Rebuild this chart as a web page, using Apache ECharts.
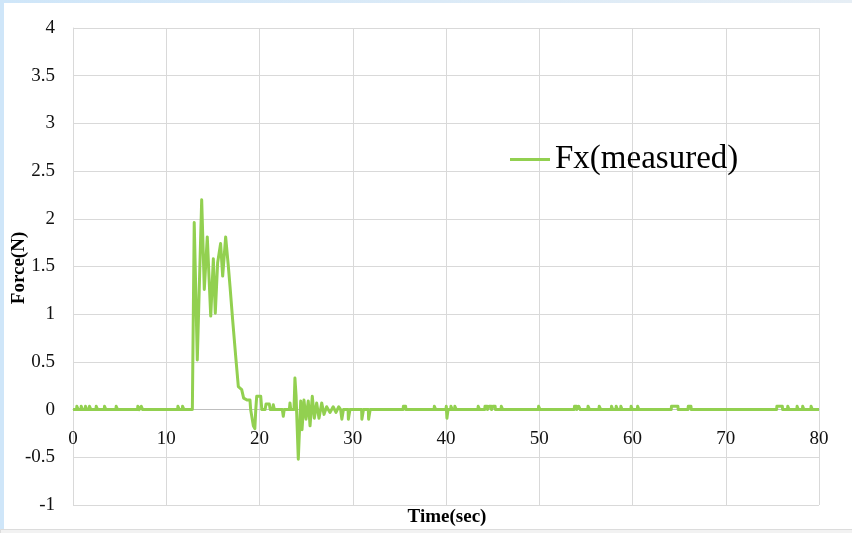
<!DOCTYPE html>
<html>
<head>
<meta charset="utf-8">
<script src="https://cdn.jsdelivr.net/npm/echarts@6/dist/echarts.min.js"></script>
<style>
html,body{margin:0;padding:0;background:#fff;}
#chart{width:852px;height:533px;}
</style>
</head>
<body>
<div id="chart"></div>
<script>
// ---- data ----
const seriesName = 'Fx(measured)';
const xTitle = 'Time(sec)';
const yTitle = 'Force(N)';
const xTicks = [0, 10, 20, 30, 40, 50, 60, 70, 80];
const yTicks = [-1, -0.5, 0, 0.5, 1, 1.5, 2, 2.5, 3, 3.5, 4];

const timeSec = [
  0,
  0.38, 0.41, 0.53, 0.56,
  0.85, 0.88, 1.0, 1.03,
  1.31, 1.34, 1.46, 1.49,
  1.74, 1.77, 1.89, 1.92,
  2.46, 2.49, 2.61, 2.64,
  3.35, 3.38, 3.5, 3.53,
  4.6, 4.63, 4.75, 4.78,
  6.92, 6.95, 7.07, 7.1,
  7.29, 7.32, 7.44, 7.47,
  11.22, 11.25, 11.37, 11.4,
  11.72, 11.75, 11.87, 11.9,
  12.8, 13.0, 13.33, 13.8, 14.08, 14.4, 14.77, 15.05, 15.26, 15.51,
  15.83, 16.05, 16.37, 16.66, 16.84, 17.12, 17.48, 17.73, 17.9, 18.09,
  18.3, 18.66, 18.98, 19.05, 19.25, 19.34, 19.5, 19.6, 19.7, 20.13,
  20.25, 20.6, 20.7, 21.05, 21.15, 21.4, 21.48, 21.6, 22.45, 22.55,
  22.65, 23.2, 23.27, 23.35, 23.7, 23.8, 23.92, 24.16, 24.42, 24.56,
  24.77, 24.99, 25.23, 25.42, 25.66, 25.88, 26.13, 26.38, 26.67, 26.92,
  27.2, 27.56, 27.9, 28.2, 28.5, 28.7,
  28.8, 28.83, 28.97, 29.0,
  29.5, 29.53, 29.67, 29.7,
  30.95, 30.98, 31.12, 31.15,
  31.67, 31.7, 31.84, 31.87,
  35.4, 35.43, 35.67, 35.7,
  38.72, 38.75, 38.87, 38.9,
  40.0, 40.03, 40.08, 40.1, 40.2, 40.22,
  40.5, 40.53, 40.65, 40.68,
  40.92, 40.95, 41.07, 41.1,
  43.42, 43.45, 43.57, 43.6,
  44.15, 44.18, 44.42, 44.45,
  44.6, 44.63, 44.85, 44.88,
  45.0, 45.03, 45.27, 45.3,
  45.9, 45.93, 46.05, 46.08,
  49.9, 49.93, 50.05, 50.08,
  53.75, 53.78, 54.0, 54.03,
  54.2, 54.23, 54.37, 54.4,
  55.2, 55.23, 55.37, 55.4,
  56.4, 56.43, 56.57, 56.6,
  57.72, 57.75, 57.85, 57.88,
  58.22, 58.25, 58.35, 58.38,
  58.72, 58.75, 58.85, 58.88,
  59.82, 59.85, 59.95, 59.98,
  60.52, 60.55, 60.65, 60.68,
  64.15, 64.18, 64.87, 64.9,
  65.95, 65.98, 66.27, 66.3,
  75.45, 75.48, 76.07, 76.1,
  76.62, 76.65, 76.75, 76.78,
  77.62, 77.65, 77.75, 77.78,
  78.22, 78.25, 78.35, 78.38,
  79.12, 79.15, 79.25, 79.28,
  80
];

const forceN = [
  0,
  0, 0.035, 0.035, 0,
  0, 0.035, 0.035, 0,
  0, 0.035, 0.035, 0,
  0, 0.035, 0.035, 0,
  0, 0.035, 0.035, 0,
  0, 0.035, 0.035, 0,
  0, 0.035, 0.035, 0,
  0, 0.035, 0.035, 0,
  0, 0.035, 0.035, 0,
  0, 0.035, 0.035, 0,
  0, 0.035, 0.035, 0,
  0, 1.96, 0.52, 2.2, 1.26, 1.81, 0.98, 1.58, 1.01, 1.54,
  1.74, 1.40, 1.81, 1.50, 1.29, 0.94, 0.52, 0.24, 0.22, 0.21,
  0.12, 0.1, 0.1, 0, 0, -0.17, -0.2, 0, 0.14, 0.14,
  0, 0, 0.06, 0.06, 0, 0, 0.05, 0, 0, -0.07,
  0, 0, 0.07, 0, 0, 0.33, 0.15, -0.52, 0.09, -0.21,
  0.10, -0.1, 0.09, -0.17, 0.14, -0.09, 0.07, -0.09, 0.07, -0.05,
  0.03, -0.03, 0.03, -0.03, 0.03, 0,
  0, -0.1, -0.1, 0,
  0, -0.1, -0.1, 0,
  0, -0.1, -0.1, 0,
  0, -0.1, -0.1, 0,
  0, 0.035, 0.035, 0,
  0, 0.035, 0.035, 0,
  0, 0.035, 0.035, -0.09, -0.09, 0,
  0, 0.035, 0.035, 0,
  0, 0.035, 0.035, 0,
  0, 0.035, 0.035, 0,
  0, 0.035, 0.035, 0,
  0, 0.035, 0.035, 0,
  0, 0.035, 0.035, 0,
  0, 0.035, 0.035, 0,
  0, 0.035, 0.035, 0,
  0, 0.035, 0.035, 0,
  0, 0.035, 0.035, 0,
  0, 0.035, 0.035, 0,
  0, 0.035, 0.035, 0,
  0, 0.035, 0.035, 0,
  0, 0.035, 0.035, 0,
  0, 0.035, 0.035, 0,
  0, 0.035, 0.035, 0,
  0, 0.035, 0.035, 0,
  0, 0.035, 0.035, 0,
  0, 0.035, 0.035, 0,
  0, 0.035, 0.035, 0,
  0, 0.035, 0.035, 0,
  0, 0.035, 0.035, 0,
  0, 0.035, 0.035, 0,
  0, 0.035, 0.035, 0,
  0
];

// ---- chart ----
const data = timeSec.map((t, i) => [t, forceN[i]]);
const serif = '"Liberation Serif", "Times New Roman", serif';
const gridTop = 28, gridBottom = 28, chartH = 533;
const plotH = chartH - gridTop - gridBottom;
const yMin = yTicks[0], yMax = yTicks[yTicks.length - 1];
// shift the x axis up so it sits on the zero line (Excel style)
const zeroOffset = -plotH * (0 - yMin) / (yMax - yMin);

const chart = echarts.init(document.getElementById('chart'), null, {renderer: 'canvas'});

chart.setOption({
  animation: false,
  backgroundColor: '#ffffff',
  grid: {left: 73, right: 33, top: gridTop, bottom: gridBottom, containLabel: false, outerBoundsMode: 'none'},
  legend: {
    data: [seriesName],
    left: 505, top: 138,
    icon: 'rect', itemWidth: 40, itemHeight: 3, itemGap: 0,
    textStyle: {fontFamily: serif, fontSize: 33, color: '#000', padding: [0, 0, 0, 0]}
  },
  xAxis: {
    type: 'value',
    min: xTicks[0], max: xTicks[xTicks.length - 1], interval: 10,
    position: 'bottom',
    offset: zeroOffset,
    axisLine: {show: true, onZero: false, lineStyle: {color: '#bfbfbf', width: 1}},
    axisTick: {show: false},
    axisLabel: {fontFamily: serif, fontSize: 19, color: '#111', margin: 20},
    splitLine: {show: true, lineStyle: {color: '#d9d9d9', width: 1}}
  },
  yAxis: {
    type: 'value',
    min: yMin, max: yMax, interval: 0.5,
    axisLine: {show: true, lineStyle: {color: '#d9d9d9', width: 1}},
    axisTick: {show: false},
    axisLabel: {fontFamily: serif, fontSize: 19, color: '#111', margin: 18},
    splitLine: {show: true, lineStyle: {color: '#d9d9d9', width: 1}}
  },
  graphic: [
    {type: 'rect', left: 0, top: 0, shape: {width: 4, height: 533}, style: {fill: '#cfe6f9'}, z: 100},
    {type: 'rect', left: 0, top: 0, shape: {width: 852, height: 3},
     style: {fill: new echarts.graphic.LinearGradient(0, 0, 1, 0, [{offset: 0, color: '#cfe6f9'}, {offset: 1, color: '#e6eef5'}])}, z: 100},
    {type: 'rect', left: 0, top: 529, shape: {width: 852, height: 4}, style: {fill: '#f2f2f2', stroke: '#dcdcdc', lineWidth: 1}, z: 100},
    {type: 'text', x: 447, y: 517, z: 100,
     style: {text: xTitle, font: 'bold 19px ' + serif, fill: '#000', textAlign: 'center', textVerticalAlign: 'middle'}},
    {type: 'text', x: 19, y: 268, rotation: Math.PI / 2, z: 100,
     style: {text: yTitle, font: 'bold 19px ' + serif, fill: '#000', textAlign: 'center', textVerticalAlign: 'middle'}}
  ],
  series: [{
    name: seriesName,
    type: 'line',
    data: data,
    symbol: 'none',
    showSymbol: false,
    lineStyle: {color: '#92d050', width: 3, join: 'round'},
    itemStyle: {color: '#92d050'},
    z: 3
  }]
});
</script>
</body>
</html>
